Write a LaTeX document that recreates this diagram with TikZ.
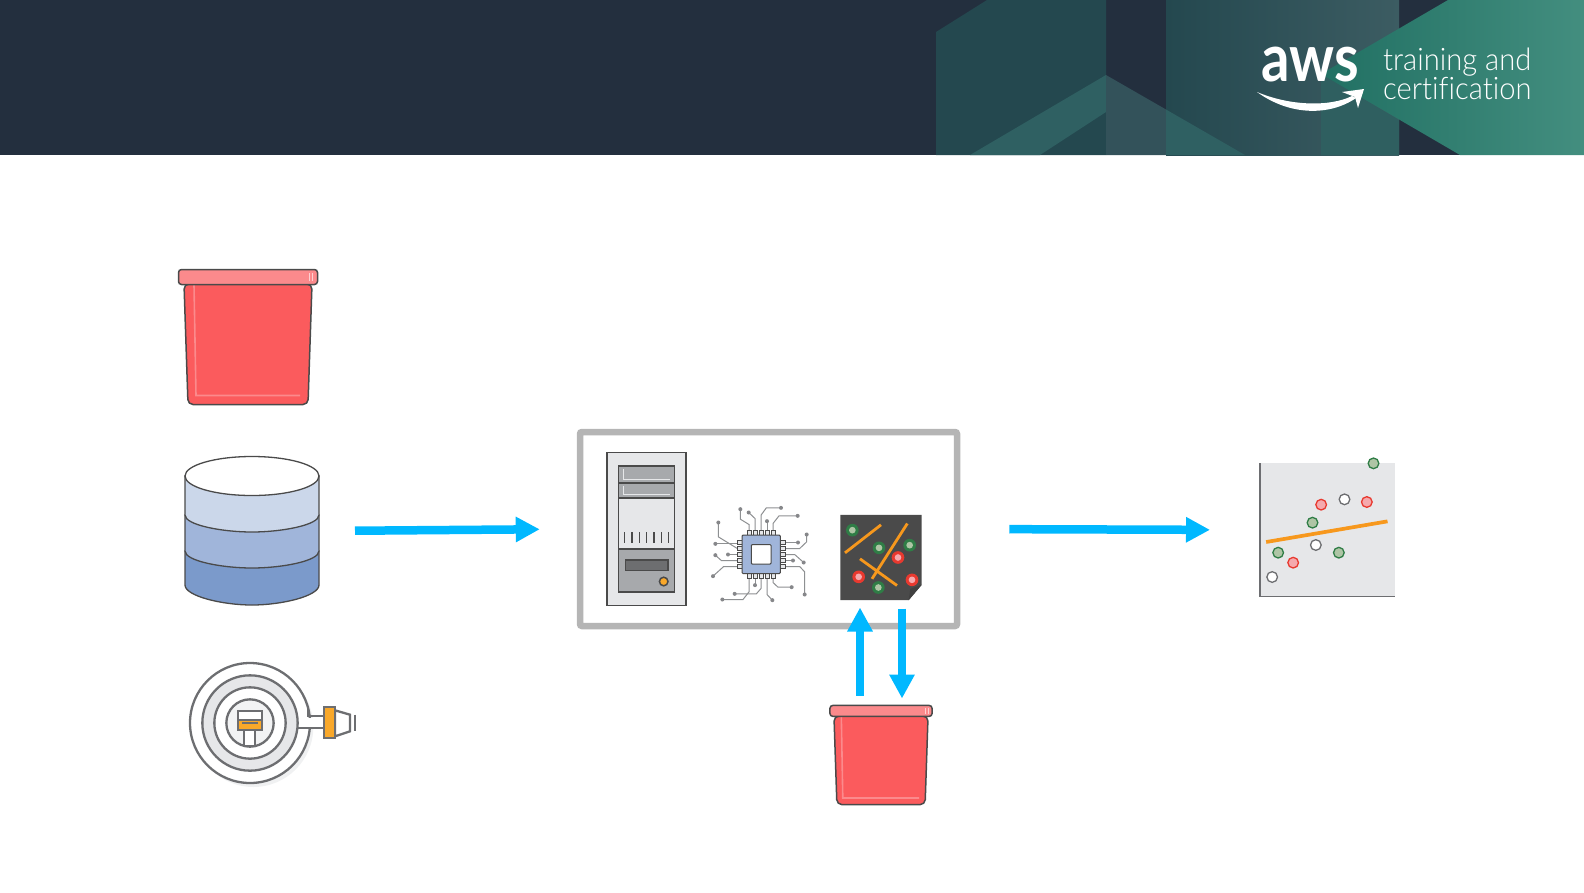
\documentclass[tikz,border=0pt]{standalone}
\usepackage{fontspec}
\setmainfont{Lato}
\newfontfamily\logolight[Ligatures=NoCommon]{Lato Light}
\usetikzlibrary{arrows.meta, positioning}
\definecolor{headerbg}{HTML}{232F3E}
\definecolor{headface}{HTML}{24484F}
\definecolor{headfacelight}{HTML}{2F6062}
\definecolor{headslate}{HTML}{33525A}
\definecolor{headslatelight}{HTML}{3C5C62}
\definecolor{headteal}{HTML}{2F5F60}
\definecolor{headgreen}{HTML}{217063}
\definecolor{headgreenlight}{HTML}{438E7F}
\definecolor{flowblue}{HTML}{00B8FF}
\definecolor{framegrey}{HTML}{B5B5B5}
\definecolor{inkgrey}{HTML}{4A4A4A}
\definecolor{hosegrey}{HTML}{6D6E71}
\definecolor{panelgrey}{HTML}{E6E7E9}
\definecolor{midgrey}{HTML}{A7A9AC}
\definecolor{amber}{HTML}{F9A82A}
\definecolor{linefit}{HTML}{F7981D}
\definecolor{bucketred}{HTML}{FB5B5D}
\definecolor{bucketlid}{HTML}{FB8A8C}
\definecolor{dbtop}{HTML}{CBD7EA}
\definecolor{dbmid}{HTML}{A0B5DA}
\definecolor{dblow}{HTML}{7B9ACB}
\definecolor{dotgreen}{HTML}{2F7D46}
\definecolor{palegreen}{HTML}{AEC5A5}
\definecolor{dotred}{HTML}{E8392F}
\definecolor{palered}{HTML}{F5A9AD}
\tikzstyle{iconbox} = [rectangle, inner sep=0pt, outer sep=0pt]
\tikzstyle{frame} = [rectangle, draw=framegrey, line width=6.5pt, rounded corners=2pt, minimum width=377pt, minimum height=194pt, fill=white, inner sep=0pt]
\tikzstyle{arrow} = [draw=flowblue, line width=8.5pt, -{Triangle[length=24pt,width=24pt]}]
\tikzstyle{logotext} = [text=white, inner sep=0pt, anchor=base west, transform shape]
\tikzset{
    bucketicon/.pic={
        \draw [draw=inkgrey, line width=1.5pt, fill=bucketred, rounded corners=5pt] (-64,-53) -- (-60,67.5) -- (60,67.5) -- (64,-53) -- cycle;
        \draw [draw=bucketlid, line width=1.6pt] (-54,-52) -- (-52,58.5) -- (52,58.5);
        \draw [draw=inkgrey, line width=1.5pt, fill=bucketlid, rounded corners=3pt] (-69.5,-67.5) rectangle (69.5,-52.5);
        \draw [draw=white!60!bucketlid, line width=1pt] (61,-64) -- (61,-56) (64,-64) -- (64,-56);
    },
    dbicon/.pic={
        \draw [draw=inkgrey, line width=1.3pt, fill=dblow] (-67,20) -- (-67,54) .. controls (-67,65) and (-30,74) .. (0,74) .. controls (30,74) and (67,65) .. (67,54) -- (67,20) -- cycle;
        \draw [draw=inkgrey, line width=1.3pt, fill=dbmid] (-67,-16) -- (-67,20) .. controls (-67,30) and (-30,37) .. (0,37) .. controls (30,37) and (67,30) .. (67,20) -- (67,-16) -- cycle;
        \draw [draw=inkgrey, line width=1.3pt, fill=dbtop] (-67,-55) -- (-67,-16) .. controls (-67,-6) and (-30,1) .. (0,1) .. controls (30,1) and (67,-6) .. (67,-16) -- (67,-55) -- cycle;
        \draw [draw=inkgrey, line width=1.3pt, fill=white] (0,-55) ellipse [x radius=67pt, y radius=19.5pt];
    },
    hoseicon/.pic={
        \begin{scope}[scale=1/3, shift={(-339,-250)}]
            \fill [panelgrey!60!white] (280,262) circle [radius=180];
            \draw [draw=hosegrey, line width=2.3pt, fill=white] (270,250) circle [radius=180];
            \draw [draw=hosegrey, line width=2.3pt, fill=panelgrey] (270,250) circle [radius=143];
            \draw [draw=hosegrey, line width=2.3pt, fill=white] (270,250) circle [radius=107];
            \draw [draw=hosegrey, line width=2.3pt, fill=panelgrey!50!white] (270,250) circle [radius=71];
            \fill [white] (418,234) rectangle (492,261);
            \draw [draw=hosegrey, line width=2.3pt] (443,200) -- (443,230) -- (492,230) (415,265) -- (492,265);
            \draw [draw=hosegrey, line width=2.3pt, fill=white] (525,212) -- (570,225) -- (570,275) -- (525,290) -- cycle;
            \draw [draw=hosegrey, line width=2.3pt, fill=amber] (493,203) rectangle (525,296);
            \draw [draw=hosegrey, line width=2.3pt] (586,225) -- (586,275);
            \draw [draw=hosegrey, line width=2.3pt, fill=white] (252,272) rectangle (285,318);
            \draw [draw=hosegrey, line width=2.3pt, fill=amber] (235,240) rectangle (305,272);
            \draw [draw=hosegrey, line width=2.3pt, fill=white] (235,213) rectangle (305,240);
            \draw [draw=hosegrey, line width=1.4pt] (247,250) -- (293,250);
        \end{scope}
    },
    servericon/.pic={
        \begin{scope}[shift={(-646.5,-528.5)}]
            \draw [draw=inkgrey, line width=1.5pt, fill=panelgrey] (607,452) rectangle (686,605);
            \draw [draw=inkgrey, line width=1.5pt, fill=midgrey] (618.7,465.7) rectangle (674.3,482.3);
            \draw [draw=inkgrey, line width=1.5pt, fill=midgrey] (618.7,482.3) rectangle (674.3,497.7);
            \draw [draw=inkgrey, line width=1.5pt, fill=panelgrey] (618.7,497.7) rectangle (674.3,548.3);
            \draw [draw=inkgrey, line width=1.5pt, fill=midgrey] (618.7,548.3) rectangle (674.3,591.7);
            \draw [draw=inkgrey, line width=1.5pt, fill=black!35!midgrey] (625.3,559.3) rectangle (668,570);
            \draw [draw=inkgrey, line width=1.5pt, fill=amber] (663.7,581) circle [radius=4.3];
            \draw [draw=panelgrey, line width=1pt] (623.3,468.3) -- (623.3,479) -- (670,479);
            \draw [draw=panelgrey, line width=1pt] (623.3,485) -- (623.3,494.3) -- (670,494.3);
            \foreach \tx in {624.7,632,639.3,646.6,653.9,661.2,668.5}
                \draw [draw=inkgrey, line width=1.2pt] (\tx,531.7) -- (\tx,542.7);
        \end{scope}
    },
    chipicon/.pic={
        \begin{scope}[scale=1/3, shift={(-184,-178)}]
            \foreach \pathx in {
                {(122,42) -- (122,72) -- (148,88) -- (148,106)},
                {(147,52) -- (166,70) -- (166,106)},
                {(244,38) -- (200,38) -- (184,60) -- (184,106)},
                {(202,78) -- (202,106)},
                {(294,62) -- (238,62) -- (220,85) -- (220,106)},
                {(56,82) -- (56,125) -- (113,160)},
                {(47,146) -- (113,146)},
                {(47,180) -- (65,196) -- (113,196)},
                {(85,178) -- (113,178)},
                {(40,243) -- (72,214) -- (113,214)},
                {(321,118) -- (321,140) -- (300,160) -- (257,160)},
                {(295,142) -- (257,142)},
                {(312,202) -- (285,178) -- (257,178)},
                {(280,196) -- (257,196)},
                {(315,298) -- (315,230) -- (300,214) -- (257,214)},
                {(68,313) -- (130,313) -- (148,290) -- (148,249)},
                {(105,296) -- (170,296) -- (184,280) -- (184,249)},
                {(166,270) -- (166,249)},
                {(218,315) -- (202,298) -- (202,249)},
                {(276,276) -- (235,276) -- (220,262) -- (220,249)}}
                \draw [draw=midgrey!85!black, line width=1pt] \pathx;
            \foreach \dx/\dy in {122/42,147/52,244/38,202/78,294/62,56/82,47/146,47/180,85/178,40/243,321/118,295/142,312/202,280/196,315/298,68/313,105/296,166/270,218/315,276/276}
                \fill [midgrey!80!black] (\dx,\dy) circle [radius=6];
            \foreach \po in {-36,-18,0,18,36} {
                \draw [draw=inkgrey, line width=.7pt, fill=panelgrey] (184+\po-6,106) rectangle (184+\po+6,120);
                \draw [draw=inkgrey, line width=.7pt, fill=panelgrey] (184+\po-6,235) rectangle (184+\po+6,249);
                \draw [draw=inkgrey, line width=.7pt, fill=panelgrey] (113,178+\po-6) rectangle (127,178+\po+6);
                \draw [draw=inkgrey, line width=.7pt, fill=panelgrey] (242,178+\po-6) rectangle (257,178+\po+6);
            }
            \draw [draw=inkgrey, line width=1pt, rounded corners=1pt, fill=dbmid] (127,120) rectangle (242,235);
            \draw [draw=inkgrey, line width=1pt, rounded corners=1pt, fill=white] (155,148) rectangle (214,207);
        \end{scope}
    },
    modelicon/.pic={
        \begin{scope}[scale=1/3, shift={(-542,-186)}]
            \fill [inkgrey] (420,58) -- (664,58) -- (664,268) -- (625,314) -- (420,314) -- cycle;
            \fill [black!75] (625,314) -- (664,268) -- (630,280) -- cycle;
            \foreach \dx/\dy in {456/104,536/157,628/149,534/276} {
                \fill [dotgreen] (\dx,\dy) circle [radius=19];
                \fill [palegreen] (\dx,\dy) circle [radius=10];
            }
            \foreach \dx/\dy in {593/186,475/244,635/253} {
                \fill [dotred] (\dx,\dy) circle [radius=19];
                \fill [palered] (\dx,\dy) circle [radius=10];
            }
            \draw [draw=linefit, line width=2.8pt] (542,88) -- (434,172) (621,84) -- (515,250) (479,190) -- (590,270);
        \end{scope}
    },
    charticon/.pic={
        \begin{scope}[scale=1/3, shift={(-262,-240)}]
            \fill [panelgrey] (60,40) rectangle (465,440);
            \draw [draw=hosegrey, line width=1.6pt] (60,40) -- (60,440) -- (465,440);
            \draw [draw=linefit, line width=3.7pt] (78,276) -- (442,214);
            \foreach \dx/\dy in {400/40,217/218,114/308,296/308}
                \draw [draw=dotgreen, line width=1.3pt, fill=palegreen] (\dx,\dy) circle [radius=16];
            \foreach \dx/\dy in {243/164,380/156,159/338}
                \draw [draw=dotred, line width=1.3pt, fill=palered] (\dx,\dy) circle [radius=16];
            \foreach \dx/\dy in {313/148,227/285,96/381}
                \draw [draw=hosegrey, line width=1.3pt, fill=white] (\dx,\dy) circle [radius=16];
        \end{scope}
    }
}

\begin{document}
\begin{tikzpicture}[x=1pt, y=-1pt, node distance=194pt]
    \useasboundingbox (0,0) rectangle (1584,892);

    % header band
    \begin{scope}
        \clip (0,0) rectangle (1584,155);
        \fill [headerbg] (0,0) rectangle (1584,155);
        \fill [headface] (936,32) -- (987,0) -- (1106,0) -- (1106,155) -- (936,155) -- cycle;
        \fill [headfacelight] (970,155) -- (1106,75) -- (1106,112) -- (1040,155) -- cycle;
        \fill [headslate] (1106,75) -- (1166,109.5) -- (1166,155) -- (1106,155) -- cycle;
        \shade [left color=headface, right color=headslatelight] (1166,0) rectangle (1399,155);
        \fill [headfacelight] (1166,109.5) -- (1245,155) -- (1166,155) -- cycle;
        \fill [headteal] (1321,74) -- (1399,120) -- (1399,155) -- (1321,155) -- cycle;
        \shade [left color=headgreen, right color=headgreenlight] (1448,0) -- (1584,0) -- (1584,155) -- (1460,155) -- (1321,74) -- cycle;
    \end{scope}

    % logo
    \node (awsword) [logotext, xscale=.85, font=\bfseries\fontsize{66}{66}\selectfont] at (1261,81) {aws};
    \node (trainword) [logotext, xscale=.94, font=\logolight\fontsize{31}{31}\selectfont] at (1383,70) {training and};
    \node (certword) [logotext, xscale=.94, font=\logolight\fontsize{31}{31}\selectfont] at (1383,99) {certification};
    \fill [white] (1257,92) .. controls (1290,116) and (1330,116) .. (1356,98) -- (1352,96) .. controls (1330,107) and (1290,106) .. (1257,92) -- cycle;
    \fill [white] (1342,92) -- (1364,89) -- (1358,108) -- (1355,97) -- cycle;

    % icons and frame
    \node (db) [iconbox, minimum width=134pt, minimum height=148pt] at (252,531) {};
    \node (bucket) [iconbox, above of=db, xshift=-4pt, minimum width=140pt, minimum height=135pt] {};
    \node (hose) [iconbox, below of=db, xshift=21pt, yshift=2pt, minimum width=167pt, minimum height=120pt] {};
    \node (frame) [frame, right of=db, xshift=322.5pt, yshift=2pt] {};
    \node (server) [iconbox, left of=frame, xshift=72pt, minimum width=79pt, minimum height=153pt] {};
    \node (chip) [iconbox, right of=server, xshift=-79.5pt, yshift=-25.5pt, minimum width=94pt, minimum height=94pt] {};
    \node (model) [iconbox, right of=chip, xshift=-74pt, yshift=-3pt, minimum width=82pt, minimum height=86pt] {};
    \node (store) [iconbox, below of=model, yshift=-3.5pt, minimum width=103pt, minimum height=99pt] {};
    \node (chart) [iconbox, right of=frame, xshift=365pt, yshift=-1pt, minimum width=135pt, minimum height=134pt] {};

    \pic at (db) {dbicon};
    \pic at (bucket) {bucketicon};
    \pic at (hose) {hoseicon};
    \pic at (server) {servericon};
    \pic at (chip) {chipicon};
    \pic at (model) {modelicon};
    \pic [scale=.735] at (store) {bucketicon};
    \pic at (chart) {charticon};

    \draw [arrow, shorten <=36pt, shorten >=37pt] (db.east) -- (frame.west);
    \draw [arrow, shorten <=49pt, shorten >=50pt] (frame.east) -- (chart.west);
    \draw [arrow, shorten <=10pt, shorten >=7pt] ([xshift=-21pt]store.north) -- ([xshift=-21pt]model.south);
    \draw [arrow, shorten <=8pt, shorten >=7pt] ([xshift=21pt]model.south) -- ([xshift=21pt]store.north);
\end{tikzpicture}
\end{document}
